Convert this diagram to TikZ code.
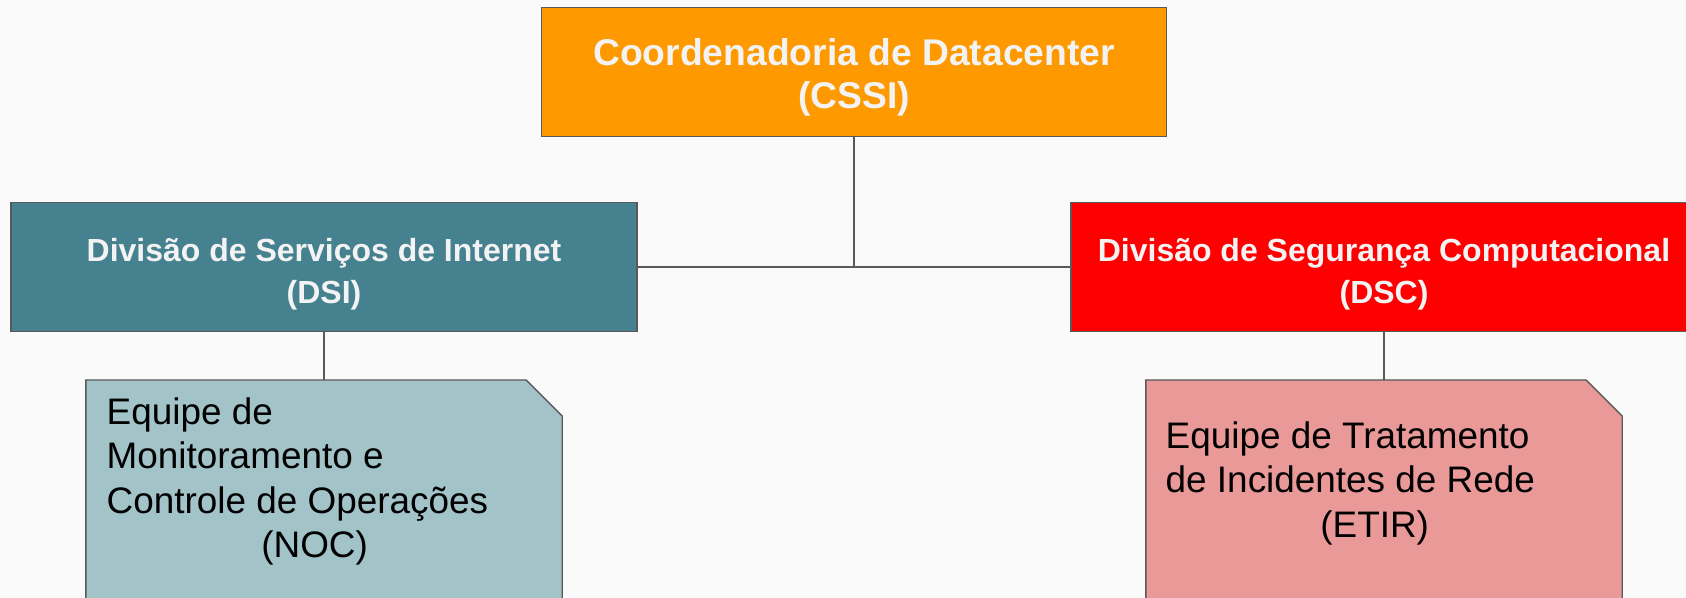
\documentclass[tikz,border=0pt]{standalone}
\usepackage{fontspec}
\setmainfont{Liberation Sans}
\usepackage{xcolor}
\usepackage{tikz}

\definecolor{fundo}{HTML}{FAFAFA}
\definecolor{laranja}{HTML}{FF9900}
\definecolor{petroleo}{HTML}{45818E}
\definecolor{vermelho}{HTML}{FF0000}
\definecolor{azulclaro}{HTML}{A2C4C9}
\definecolor{rosa}{HTML}{EA9999}
\definecolor{borda}{HTML}{595959}
\definecolor{textoclaro}{HTML}{F3F3F3}

\newcommand{\alto}{\rule{0pt}{10.5pt}}

\begin{document}
\begin{tikzpicture}[
	caixa/.style={draw=borda, line width=0.4pt, inner sep=0pt, text=textoclaro, align=center, minimum height=1.29cm},
	equipe/.style={inner sep=0pt, minimum width=4.75cm, minimum height=2.6cm, anchor=north},
	contorno/.style={draw=borda, line width=0.4pt},
	rotulo/.style={black, inner sep=0pt, align=left, anchor=north west, font=\fontsize{10.5}{12.6}\selectfont},
	ligacao/.style={draw=borda, line width=0.5pt}
]
	\fill[fundo] (0.00,0.00) rectangle (16.86,5.98);
	\useasboundingbox (0.00,0.00) rectangle (16.86,5.98);
	% caixas
	\node[caixa, fill=laranja, minimum width=6.25cm, font=\fontsize{10.6}{12.2}\selectfont\bfseries] (cssi) at (8.54,5.26) {\alto Coordenadoria de Datacenter\\(CSSI)};
	\node[caixa, fill=petroleo, minimum width=6.26cm, font=\fontsize{9.1}{12}\selectfont\bfseries] (dsi) at (3.24,3.31) {\alto Divisão de Serviços de Internet\\(DSI)};
	\node[caixa, fill=vermelho, minimum width=6.26cm, font=\fontsize{9.1}{12}\selectfont\bfseries] (dsc) at (13.84,3.31) {\alto Divisão de Segurança Computacional\\(DSC)};
	\node[equipe] (noc) at (3.24,2.18) {};
	\node[equipe] (etir) at (13.84,2.18) {};
	% cantos cortados
	\filldraw[contorno, fill=azulclaro] (noc.south west) -- (noc.north west) -- ([xshift=-0.36cm]noc.north east) -- ([yshift=-0.36cm]noc.north east) -- (noc.south east) -- cycle;
	\filldraw[contorno, fill=rosa] (etir.south west) -- (etir.north west) -- ([xshift=-0.36cm]etir.north east) -- ([yshift=-0.36cm]etir.north east) -- (etir.south east) -- cycle;
	\node[rotulo] (noctxt) at (1.06,2.01) {Equipe de\\Monitoramento e\\Controle de Operações\\\hspace*{44pt}(NOC)};
	\node[rotulo] (etirtxt) at (11.65,1.77) {Equipe de Tratamento\\de Incidentes de Rede\\\hspace*{44pt}(ETIR)};
	% ligacoes
	\draw[ligacao] (cssi.south) -- (cssi.south |- dsi.east);
	\draw[ligacao] (dsi.east) -- (dsc.west);
	\draw[ligacao] (dsi.south) -- (noc.north);
	\draw[ligacao] (dsc.south) -- (etir.north);
\end{tikzpicture}
\end{document}
